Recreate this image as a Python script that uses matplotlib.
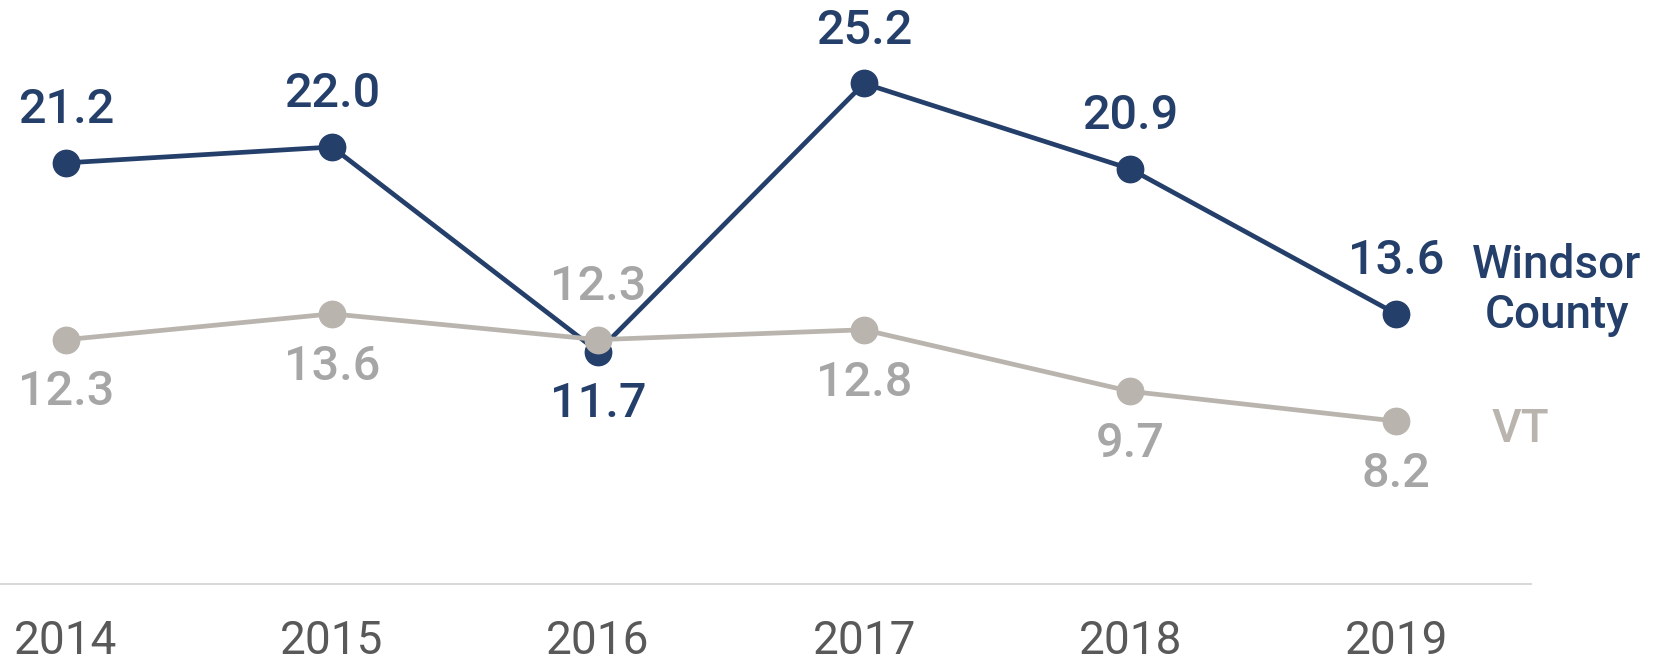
import matplotlib.pyplot as plt

plt.rcParams['font.family'] = ['Roboto', 'DejaVu Sans']

years = [2014, 2015, 2016, 2017, 2018, 2019]
windsor = [21.2, 22.0, 11.7, 25.2, 20.9, 13.6]
vt = [12.3, 13.6, 12.3, 12.8, 9.7, 8.2]
# label above (+1) or below (-1) each point
windsor_pos = [1, 1, -1, 1, 1, 1]
vt_pos = [-1, -1, 1, -1, -1, -1]

NAVY = "#253F6B"
GRAY_LINE = "#B9B4AE"
GRAY_LABEL = "#A6A6A6"

fig = plt.figure(figsize=(16.7, 6.62), dpi=100)
ax = fig.add_axes([0, 78 / 662, 1531 / 1670, 584 / 662])

ax.plot(years, windsor, color=NAVY, lw=3.4, marker="o", ms=19, zorder=3)
ax.plot(years, vt, color=GRAY_LINE, lw=3.4, marker="o", ms=19, zorder=4)

for x, y, p in zip(years, windsor, windsor_pos):
    ax.annotate(f"{y:.1f}", (x, y), xytext=(0, 38 * p), textcoords="offset points",
                ha="center", va="center", fontsize=35, color=NAVY,
                fontweight="medium", zorder=5)
for x, y, p in zip(years, vt, vt_pos):
    ax.annotate(f"{y:.1f}", (x, y), xytext=(0, 38 * p), textcoords="offset points",
                ha="center", va="center", fontsize=35, color=GRAY_LABEL,
                fontweight="medium", zorder=5)

ax.text(2019.605, 14.8, "Windsor\nCounty", ha="center", va="center", fontsize=33,
        color=NAVY, fontweight="medium", linespacing=1.15)
ax.text(2019.36, 7.8, "VT", ha="left", va="center", fontsize=33, color=GRAY_LINE,
        fontweight="medium")

ax.set_xlim(2013.752, 2019.507)
ax.set_ylim(0, 29.4)
ax.set_xticks(years)
ax.set_xticklabels([str(y) for y in years])
ax.tick_params(axis="x", length=0, labelsize=33, labelcolor="#595959", pad=25)
ax.set_yticks([])
for s in ["top", "left", "right"]:
    ax.spines[s].set_visible(False)
ax.spines["bottom"].set_color("#D9D9D9")
ax.spines["bottom"].set_linewidth(1.5)

fig.savefig("out.png", dpi=100)
